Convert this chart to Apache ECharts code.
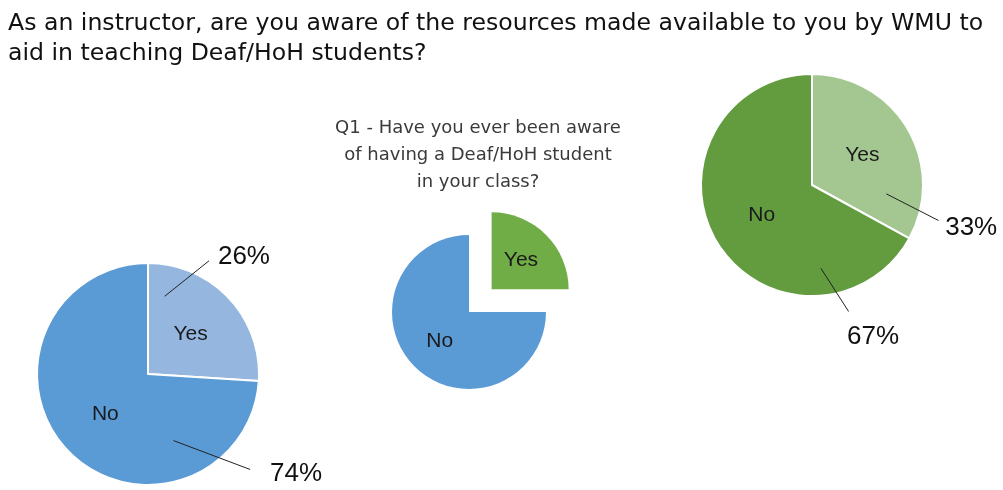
<!DOCTYPE html>
<html>
<head>
<meta charset="utf-8">
<style>
  html, body { margin: 0; padding: 0; background: #ffffff; }
  #chart { width: 1003px; height: 490px; }
</style>
<script src="https://cdn.jsdelivr.net/npm/echarts@6/dist/echarts.min.js"></script>
</head>
<body>
<div id="chart"></div>
<script>
// Survey answers, one small array per question
const categories = ['Yes', 'No'];
const resourcesAwareInstructors = [26, 74];   // left pie (percent)
const q1AwareDeafStudent = [25, 75];          // middle pie (no values printed)
const resourcesAwareOther = [33, 67];         // right pie (percent)

const mainTitle = 'As an instructor, are you aware of the resources made available to you by WMU to\naid in teaching Deaf/HoH students?';
const q1Title = 'Q1 - Have you ever been aware\nof having a Deaf/HoH student\nin your class?';

// Layout of the three pies (pixels)
const FONT = "'Liberation Sans', Arial, sans-serif";
const TITLE_FONT = "'DejaVu Sans', 'Liberation Sans', sans-serif";
const pies = {
  left:   { cx: 148, cy: 374, r: 111, colors: ['#95b7df', '#5b9bd5'] },
  middle: { cx: 469, cy: 312, r: 77,  colors: ['#70ad47', '#5b9bd5'] },
  right:  { cx: 812, cy: 185, r: 111, colors: ['#a4c791', '#629c3f'] }
};

// Percent-label placement, in units of the pie radius relative to its centre:
// line start, line end, text anchor, text alignment
const calloutPlacement = {
  left: [
    { s: [0.15, -0.70], e: [0.55, -1.02], t: [0.63, -1.06], align: 'left' },
    { s: [0.23, 0.60],  e: [0.92, 0.86],  t: [1.10, 0.90],  align: 'left' }
  ],
  right: [
    { s: [0.67, 0.08],  e: [1.14, 0.32],  t: [1.20, 0.39],  align: 'left' },
    { s: [0.08, 0.75],  e: [0.33, 1.14],  t: [0.55, 1.37],  align: 'center' }
  ]
};

function toData(values, colors) {
  return categories.map((name, i) => ({
    name: name,
    value: values[i],
    itemStyle: { color: colors[i] }
  }));
}

function slicesSeries(p, values, extra) {
  return Object.assign({
    type: 'pie',
    center: [p.cx, p.cy],
    radius: [0, p.r],
    startAngle: 90,
    clockwise: true,
    animation: false,
    silent: true,
    emphasis: { disabled: true },
    itemStyle: { borderColor: '#ffffff', borderWidth: 2 },
    label: {
      show: true,
      position: 'inside',
      formatter: '{b}',
      fontFamily: FONT,
      fontSize: 21,
      color: '#1a1a1a'
    },
    labelLine: { show: false },
    data: toData(values, p.colors)
  }, extra || {});
}

function calloutSeries(key, values) {
  const p = pies[key];
  const place = calloutPlacement[key];
  const pt = (v) => [p.cx + v[0] * p.r, p.cy + v[1] * p.r];
  return {
    type: 'pie',
    center: [p.cx, p.cy],
    radius: [0, p.r],
    startAngle: 90,
    clockwise: true,
    animation: false,
    silent: true,
    z: 5,
    emphasis: { disabled: true },
    itemStyle: { color: 'rgba(0,0,0,0)', borderWidth: 0 },
    label: {
      show: true,
      position: 'outside',
      formatter: (d) => d.value + '%',
      fontFamily: FONT,
      fontSize: 26,
      color: '#111111',
      width: 90,
      overflow: 'none'
    },
    labelLine: { show: true, length: 10, length2: 0, lineStyle: { color: '#222222', width: 1 } },
    labelLayout: (params) => {
      const c = place[params.dataIndex];
      const s = pt(c.s), e = pt(c.e), t = pt(c.t);
      return {
        x: t[0],
        y: t[1],
        align: c.align,
        verticalAlign: 'middle',
        labelLinePoints: [s, e, e]
      };
    },
    data: categories.map((name, i) => ({ name: name, value: values[i] }))
  };
}

const chart = echarts.init(document.getElementById('chart'), null, { renderer: 'canvas' });

chart.setOption({
  backgroundColor: '#ffffff',
  animation: false,
  title: {
    text: mainTitle,
    left: 3,
    top: 4,
    textStyle: {
      fontFamily: TITLE_FONT,
      fontSize: 23.6,
      fontWeight: 'normal',
      color: '#111111',
      lineHeight: 30
    }
  },
  graphic: [{
    type: 'text',
    x: 478,
    y: 115,
    silent: true,
    style: {
      text: q1Title,
      fill: '#3a3a3a',
      font: '18px ' + TITLE_FONT,
      textAlign: 'center',
      lineHeight: 27
    }
  }],
  series: [
    slicesSeries(pies.left, resourcesAwareInstructors),
    calloutSeries('left', resourcesAwareInstructors),
    slicesSeries(pies.middle, q1AwareDeafStudent, {
      selectedMode: 'single',
      selectedOffset: 32,
      itemStyle: { borderWidth: 0 },
      data: toData(q1AwareDeafStudent, pies.middle.colors).map((d, i) =>
        i === 0 ? Object.assign(d, { selected: true }) : d)
    }),
    slicesSeries(pies.right, resourcesAwareOther),
    calloutSeries('right', resourcesAwareOther)
  ]
});
</script>
</body>
</html>
